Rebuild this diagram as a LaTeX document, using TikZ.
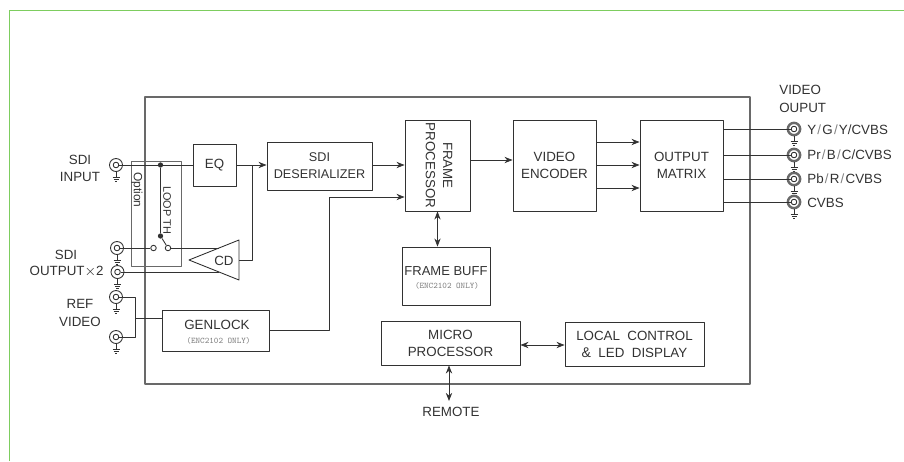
\documentclass[tikz,border=0pt]{standalone}
\usepackage{fontspec}
\setmainfont{Liberation Sans}
\usetikzlibrary{calc,arrows.meta}
\definecolor{framegreen}{RGB}{125,205,95}
\definecolor{linegray}{RGB}{50,50,50}
\definecolor{boxgray}{RGB}{105,105,105}
\definecolor{textgray}{RGB}{50,50,50}
\tikzset{
 block/.style={draw=linegray, line width=0.5pt, inner sep=0pt, align=center, text=textgray, font=\fontsize{7.6}{9.6}\selectfont},
 note/.style={inner sep=0pt, align=center, text=textgray, font=\fontsize{7.6}{9.8}\selectfont},
 small/.style={inner sep=0pt, text=gray, font=\fontsize{4.9}{5}\ttfamily},
 port/.style={draw=linegray, circle, line width=0.5pt, fill=white, minimum size=7.4pt, inner sep=0pt},
 outport/.style={draw=boxgray, circle, line width=1.4pt, fill=white, minimum size=7pt, inner sep=0pt},
 core/.style={draw=linegray, circle, line width=0.5pt, fill=white, minimum size=3.2pt, inner sep=0pt},
 junction/.style={circle, fill=linegray, minimum size=3pt, inner sep=0pt},
 wire/.style={draw=linegray, line width=0.5pt},
 arrowwire/.style={wire, -{Stealth[length=4.6pt,width=3.6pt]}},
 bothwire/.style={wire, {Stealth[length=4.6pt,width=3.6pt]}-{Stealth[length=4.6pt,width=3.6pt]}},
}
\newcommand{\earth}[1]{
 \draw[wire] (#1.south)--++(0,5) coordinate (g);
 \draw[wire] ($(g)+(-3.5,0)$)--($(g)+(3.5,0)$);
 \draw[wire] ($(g)+(-2.5,2)$)--($(g)+(2.5,2)$);
 \draw[wire] ($(g)+(-1.2,4)$)--($(g)+(1.2,4)$);
}
\newcommand{\lightslash}{\kern0.7pt\textcolor{gray}{/}\kern0.7pt}
\begin{document}
\begin{tikzpicture}[x=0.02cm, y=-0.02cm, line join=round]
 \useasboundingbox (0,0) rectangle (904,461);
 \draw[framegreen, line width=0.9pt] (9.5,461)--(9.5,10.5)--(904,10.5);
 \node[draw=boxgray, line width=0.6pt, minimum width=605*0.02cm, minimum height=287*0.02cm, inner sep=0pt] (mainbox) at (447.5,240.5) {};
 % blocks
 \node[block, minimum width=43*0.02cm, minimum height=42*0.02cm] (eq) at (214.5,165) {EQ};
 \node[block, minimum width=105*0.02cm, minimum height=48*0.02cm, font=\fontsize{7.2}{9.6}\selectfont] (deser) at (319.5,166) {SDI\\DESERIALIZER};
 \node[block, minimum width=65*0.02cm, minimum height=91*0.02cm] (fproc) at (437.5,165.5) {};
 \node[note, rotate=-90] (fproctext) at (439,165.5) {FRAME\\PROCESSOR};
 \node[block, minimum width=83*0.02cm, minimum height=91*0.02cm] (venc) at (554.5,165.5) {VIDEO\\ENCODER};
 \node[block, minimum width=83*0.02cm, minimum height=91*0.02cm] (matrix) at (681.5,165.5) {OUTPUT\\MATRIX};
 \node[block, minimum width=88*0.02cm, minimum height=58*0.02cm] (fbuff) at (446,276) {};
 \node[note, font=\fontsize{7.4}{9}\selectfont] (fbufftext) at (446,271) {FRAME BUFF};
 \node[small] (fbuffnote) at (447,286) {(ENC2102 ONLY)};
 \node[block, minimum width=107*0.02cm, minimum height=41*0.02cm] (genlock) at (215.5,330.5) {};
 \node[note] (genlocktext) at (217,325) {GENLOCK};
 \node[small] (genlocknote) at (218.5,341) {(ENC2102 ONLY)};
 \node[block, minimum width=139*0.02cm, minimum height=44*0.02cm] (micro) at (450.5,343) {MICRO\\PROCESSOR};
 \node[block, minimum width=139*0.02cm, minimum height=44*0.02cm] (local) at (634.5,344) {LOCAL\ \ CONTROL\\{\footnotesize\&}\ \ LED\ \ DISPLAY};
 \node[draw=boxgray, line width=0.5pt, minimum width=50*0.02cm, minimum height=105*0.02cm, inner sep=0pt] (option) at (156,213.5) {};
 \node[note, rotate=-90, font=\fontsize{6.8}{8}\selectfont] (optiontext) at (137,190) {Option};
 \node[note, rotate=-90, font=\fontsize{6.2}{8}\selectfont] (looptext) at (167,210) {LOOP TH};
 % ports
 \foreach \n/\x/\y in {sdiin/116/165, sdioa/117/248, sdiob/117.5/272, refa/116/297, refb/116/337}{
  \node[port] (\n) at (\x,\y) {};
  \earth{\n}
  \node[core] (\n c) at (\n) {};
 }
 \foreach \n/\y in {yout/129, prout/155, pbout/179, cvout/202}{
  \node[outport] (\n) at (794,\y) {};
  \earth{\n}
  \node[core] (\n c) at (\n) {};
 }
 % loop through switch
 \coordinate (loopa) at (160.5,165);
 \node[junction] (jtop) at (loopa) {};
 \node[junction] (jsw) at (160.5,236) {};
 \node[core, minimum size=5.5*0.02cm] (swa) at (153.5,248) {};
 \node[core, minimum size=5.5*0.02cm] (swb) at (168,248) {};
 \draw[wire] (jtop)--(jsw)--(swb);
 \draw[wire] (sdiinc.east)--(eq.west);
 \draw[wire] (sdioac.east)--(swa.west);
 % cable driver
 \coordinate (cdtip) at (189,260);
 \coordinate (cdtop) at (239,240);
 \coordinate (cdbot) at (239,280);
 \coordinate (cdout) at (239,260);
 \coordinate (cdina) at (219,248);
 \coordinate (cdinb) at (219,272);
 \draw[wire] (cdtip)--(cdtop)--(cdbot)--cycle;
 \node[note] (cdtext) at (224,261) {CD};
 \draw[wire] (swb.east)--(cdina);
 \draw[wire] (sdiobc.east)--(cdinb);
 \coordinate (eqtap) at (252,165);
 \draw[wire] (cdout)-|(eqtap);
 % signal path
 \draw[arrowwire] (eq.east|-eqtap)--(deser.west|-eqtap);
 \draw[arrowwire] (deser.east|-eqtap)--(fproc.west|-eqtap);
 \coordinate (gkbend) at (329,197);
 \draw[arrowwire] (genlock.east)-|(gkbend)--(fproc.west|-gkbend);
 \draw[arrowwire] (fproc.east|-0,160)--(venc.west|-0,160);
 \foreach \y in {142,165,188}
  \draw[arrowwire] (venc.east|-0,\y)--(matrix.west|-0,\y);
 \draw[bothwire] (fproc.south)--(fproc.south|-fbuff.north);
 \draw[bothwire] (micro.east|-0,345)--(local.west|-0,345);
 % ref inputs
 \coordinate (refbus) at (135,318);
 \draw[wire] (refac.east)-|(refbus);
 \draw[wire] (refbc.east)-|(refbus);
 \draw[wire] (refbus)--(genlock.west|-refbus);
 % outputs
 \foreach \n in {yout,prout,pbout,cvout}
  \draw[wire] (matrix.east|-\n)--(\n c.west);
 % labels
 \node[note] (sdiinlabel) at (80,168.5) {SDI\\INPUT};
 \node[note] (sdioutlabel) at (66,254.5) {SDI};
 \node[note, anchor=east] (sdioutlabelb) at (104,272) {OUTPUT$\times$2};
 \node[note] (reflabel) at (80,313) {REF\\VIDEO};
 \node[note, align=left, anchor=west] (videolabel) at (779,99) {VIDEO\\OUPUT};
 \node[note, anchor=west] (ylabel) at (807,130) {Y\lightslash G\lightslash Y/CVBS};
 \node[note, anchor=west] (prlabel) at (807,155) {Pr\lightslash B\lightslash C/CVBS};
 \node[note, anchor=west] (pblabel) at (807,179) {Pb\lightslash R\lightslash CVBS};
 \node[note, anchor=west] (cvlabel) at (807,203) {CVBS};
 \node[note] (remote) at (451,411.5) {REMOTE};
 \coordinate (remotetop) at (449,401);
 \draw[bothwire] (micro.south-|remotetop)--(remotetop);
\end{tikzpicture}
\end{document}
